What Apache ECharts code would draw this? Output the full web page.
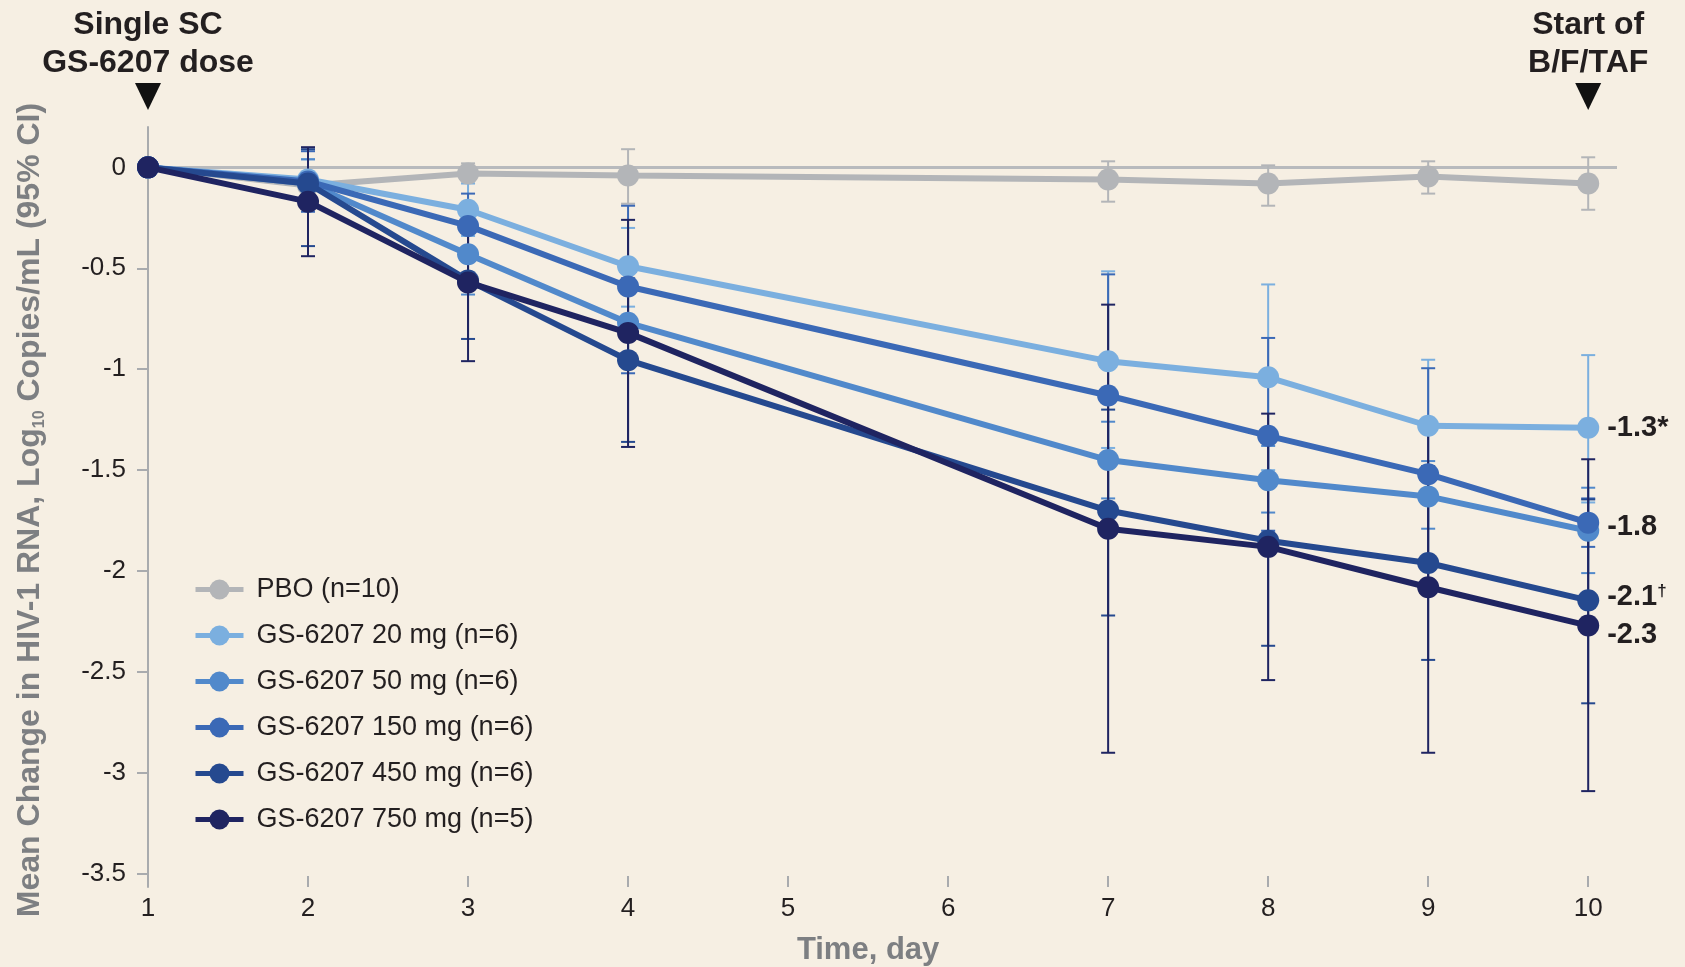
<!DOCTYPE html>
<html>
<head>
<meta charset="utf-8">
<title>GS-6207 HIV-1 RNA change</title>
<script src="https://cdn.jsdelivr.net/npm/echarts@6.0.0/dist/echarts.min.js"></script>
<style>
    html, body { margin: 0; padding: 0; background: #f6efe3; }
    #chart { width: 1685px; height: 967px; }
</style>
</head>
<body>
<div id="chart"></div>
<script>
// study days with a measurement
const days = [1, 2, 3, 4, 7, 8, 9, 10];
const xTicks = [1, 2, 3, 4, 5, 6, 7, 8, 9, 10];
const yTicks = [0, -0.5, -1, -1.5, -2, -2.5, -3, -3.5];

const groups = ['PBO (n=10)', 'GS-6207 20 mg (n=6)', 'GS-6207 50 mg (n=6)',
    'GS-6207 150 mg (n=6)', 'GS-6207 450 mg (n=6)', 'GS-6207 750 mg (n=5)'];

// mean change, log10 copies/mL
const pbo = [0, -0.09, -0.03, -0.04, -0.06, -0.08, -0.045, -0.08];
const mg20 = [0, -0.06, -0.21, -0.49, -0.96, -1.04, -1.28, -1.29];
const mg50 = [0, -0.08, -0.43, -0.77, -1.45, -1.55, -1.63, -1.80];
const mg150 = [0, -0.07, -0.29, -0.59, -1.13, -1.33, -1.52, -1.76];
const mg450 = [0, -0.08, -0.56, -0.955, -1.70, -1.85, -1.96, -2.145];
const mg750 = [0, -0.17, -0.57, -0.82, -1.79, -1.88, -2.08, -2.27];

// 95% CI (no bar on day 1)
const pboLow = [null, -0.15, -0.07, -0.18, -0.17, -0.19, -0.13, -0.21];
const pboHigh = [null, -0.03, 0.02, 0.09, 0.03, 0.01, 0.03, 0.05];
const mg20Low = [null, -0.15, -0.34, -0.69, -1.39, -1.50, -1.60, -1.66];
const mg20High = [null, 0.04, -0.08, -0.30, -0.515, -0.58, -0.953, -0.93];
const mg50Low = [null, -0.20, -0.63, -0.95, -1.64, -1.71, -1.79, -2.01];
const mg50High = [null, 0.04, -0.23, -0.59, -1.26, -1.38, -1.455, -1.587];
const mg150Low = [null, -0.22, -0.45, -1.02, -1.71, -1.80, -2.05, -1.88];
const mg150High = [null, 0.08, -0.13, -0.19, -0.53, -0.845, -0.995, -1.64];
const mg450Low = [null, -0.39, -0.85, -1.36, -2.22, -2.37, -2.44, -2.655];
const mg450High = [null, 0.09, -0.29, -0.55, -1.20, -1.33, -1.48, -1.645];
const mg750Low = [null, -0.44, -0.96, -1.385, -2.90, -2.54, -2.90, -3.09];
const mg750High = [null, 0.10, -0.18, -0.26, -0.68, -1.22, -1.26, -1.446];

// labels at day 10
const endLabels = [null, '-1.3*', null, '-1.8', '{b|-2.1}{d|†}', '-2.3'];
const endOffsets = [null, [0, 0], null, [0, 4], [0, -3], [0, 9]];

const colors = ['#b3b5b8', '#7bafdf', '#5189cb', '#3b69b6', '#25498f', '#1f2461'];
const means = [pbo, mg20, mg50, mg150, mg450, mg750];
const lows = [pboLow, mg20Low, mg50Low, mg150Low, mg450Low, mg750Low];
const highs = [pboHigh, mg20High, mg50High, mg150High, mg450High, mg750High];

const FONT = '"Liberation Sans", Arial, Helvetica, sans-serif';
const INK = '#231f20';
const AXIS_GRAY = '#a9abae';
const TITLE_GRAY = '#7d7f82';

function ciRenderer(color) {
    return function (params, api) {
        const x = api.value(0);
        const lo = api.coord([x, api.value(1)]);
        const hi = api.coord([x, api.value(2)]);
        const w = 7;
        const style = { stroke: color, lineWidth: 2 };
        return {
            type: 'group',
            children: [
                { type: 'line', shape: { x1: lo[0], y1: lo[1], x2: hi[0], y2: hi[1] }, style },
                { type: 'line', shape: { x1: lo[0] - w, y1: lo[1], x2: lo[0] + w, y2: lo[1] }, style },
                { type: 'line', shape: { x1: hi[0] - w, y1: hi[1], x2: hi[0] + w, y2: hi[1] }, style }
            ]
        };
    };
}

const chart = echarts.init(document.getElementById('chart'), null, { renderer: 'canvas' });

let series = [];

// zero reference line
series.push({
    name: 'zero', type: 'line', data: [], z: 1, silent: true,
    markLine: {
        z: 1, silent: true, symbol: 'none', animation: false,
        label: { show: false },
        lineStyle: { color: '#b8babd', width: 3, type: 'solid' },
        data: [{ yAxis: 0 }]
    }
});

// error bars under the lines
groups.forEach((g, k) => {
    let ci = [];
    days.forEach((d, i) => {
        if (lows[k][i] != null) ci.push([d, lows[k][i], highs[k][i]]);
    });
    series.push({
        name: 'ci-' + k, type: 'custom', z: 2, silent: true,
        renderItem: ciRenderer(colors[k]),
        encode: { x: 0, y: [1, 2] },
        data: ci
    });
});

groups.forEach((g, k) => {
    let data = days.map((d, i) => [d, means[k][i]]);
    if (endLabels[k]) {
        const last = data.length - 1;
        data[last] = {
            value: data[last],
            label: {
                show: true, position: 'right', distance: 8, offset: endOffsets[k],
                formatter: endLabels[k],
                fontFamily: FONT, fontSize: 29, fontWeight: 'bold', color: INK,
                rich: {
                    b: { fontFamily: FONT, fontSize: 29, fontWeight: 'bold', color: INK },
                    d: { fontFamily: FONT, fontSize: 17, fontWeight: 'bold', color: INK, verticalAlign: 'top' }
                }
            }
        };
    }
    series.push({
        name: g, type: 'line', z: 3 + k,
        data: data,
        symbol: 'circle', symbolSize: 22, showAllSymbol: true,
        lineStyle: { color: colors[k], width: 6 },
        itemStyle: { color: colors[k] },
        emphasis: { disabled: true }
    });
});

chart.setOption({
    animation: false,
    backgroundColor: '#f6efe3',
    textStyle: { fontFamily: FONT },
    color: colors,
    grid: { left: 148, right: 68, top: 127, bottom: 80, containLabel: false },
    legend: {
        data: groups,
        orient: 'vertical',
        left: 193, top: 576, padding: 0,
        itemWidth: 48, itemHeight: 25, itemGap: 19,
        lineStyle: { width: 5 },
        textStyle: { fontFamily: FONT, fontSize: 27, color: INK, padding: [0, 0, 0, 8] }
    },
    xAxis: {
        type: 'value', min: 1, max: 10.18,
        axisLine: { show: false, onZero: false },
        splitLine: { show: false },
        axisTick: { show: true, inside: true, length: 11, customValues: xTicks, lineStyle: { color: AXIS_GRAY, width: 2 } },
        axisLabel: { customValues: xTicks, margin: 9, fontSize: 26, color: INK, fontFamily: FONT }
    },
    yAxis: {
        type: 'value', min: -3.565, max: 0.2,
        axisLine: { show: true, onZero: false, lineStyle: { color: AXIS_GRAY, width: 2 } },
        splitLine: { show: false },
        axisTick: { show: true, length: 11, customValues: yTicks, lineStyle: { color: AXIS_GRAY, width: 2 } },
        axisLabel: { customValues: yTicks, margin: 22, fontSize: 26, color: INK, fontFamily: FONT,
            formatter: v => String(v) }
    },
    series: series
});

// annotations placed from the axis scale
const p1 = chart.convertToPixel({ gridIndex: 0 }, [1, 0]);
const p10 = chart.convertToPixel({ gridIndex: 0 }, [10, 0]);
const annoFont = 'bold 32px ' + FONT;

function marker(x) {
    return { type: 'polygon', shape: { points: [[x - 13, 83], [x + 13, 83], [x, 110]] }, style: { fill: '#111' } };
}

chart.setOption({
    graphic: [
        { type: 'text', x: p1[0], y: 25, style: { text: 'Single SC', font: annoFont, fill: INK, align: 'center', verticalAlign: 'middle' } },
        { type: 'text', x: p1[0], y: 63, style: { text: 'GS-6207 dose', font: annoFont, fill: INK, align: 'center', verticalAlign: 'middle' } },
        marker(p1[0]),
        { type: 'text', x: p10[0], y: 25, style: { text: 'Start of', font: annoFont, fill: INK, align: 'center', verticalAlign: 'middle' } },
        { type: 'text', x: p10[0], y: 63, style: { text: 'B/F/TAF', font: annoFont, fill: INK, align: 'center', verticalAlign: 'middle' } },
        marker(p10[0]),
        {
            type: 'text', x: (p1[0] + p10[0]) / 2, y: 950,
            style: { text: 'Time, day', font: 'bold 31px ' + FONT, fill: TITLE_GRAY, align: 'center', verticalAlign: 'middle' }
        },
        {
            type: 'text', x: 30, y: 510, rotation: Math.PI / 2,
            style: {
                text: '{a|Mean Change in HIV-1 RNA, Log}{s|10}{a| Copies/mL (95% CI)}',
                align: 'center', verticalAlign: 'middle',
                rich: {
                    a: { fontFamily: FONT, fontSize: 32, fontWeight: 'bold', fill: TITLE_GRAY, lineHeight: 35 },
                    s: { fontFamily: FONT, fontSize: 16, fontWeight: 'bold', fill: TITLE_GRAY, verticalAlign: 'bottom' }
                }
            }
        }
    ]
});
</script>
</body>
</html>
